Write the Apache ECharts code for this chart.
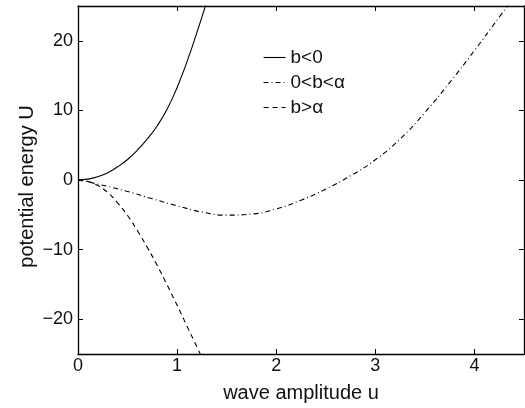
<!DOCTYPE html>
<html>
<head>
<meta charset="utf-8">
<script src="https://cdn.jsdelivr.net/npm/echarts@6/dist/echarts.min.js"></script>
<style>
html,body{margin:0;padding:0;background:#fff;}
#c{width:525px;height:408px;}
</style>
</head>
<body>
<div id="c"></div>
<script>
// Data
const seriesNames = ["b<0", "0<b<\u03B1", "b>\u03B1"];
const solidU = [0, 0.1, 0.2, 0.3, 0.4, 0.5, 0.6, 0.7, 0.8, 0.9, 1.0, 1.1, 1.2, 1.29];
const solidV = [0, 0.12, 0.47, 1.05, 1.9, 2.95, 4.3, 5.9, 7.8, 10.2, 13.3, 17.0, 21.2, 25.2];
const dashDotU = [0, 0.25, 0.5, 0.75, 1.0, 1.25, 1.5, 1.75, 2.0, 2.25, 2.5, 2.75, 3.0, 3.25, 3.5, 3.75, 4.0, 4.25, 4.34];
const dashDotV = [0, -0.75, -1.65, -2.7, -3.7, -4.6, -5.05, -4.9, -4.15, -2.9, -1.3, 0.6, 2.9, 5.9, 9.7, 14.0, 18.6, 23.4, 25.1];
const dashedU = [0, 0.1, 0.2, 0.3, 0.4, 0.5, 0.6, 0.7, 0.8, 0.9, 1.0, 1.1, 1.2, 1.24];
const dashedV = [0, -0.2, -0.8, -1.8, -3.3, -5.1, -7.3, -9.7, -12.3, -15.1, -18.0, -21.0, -24.0, -25.2];
const xTicks = [0, 1, 2, 3, 4];
const yTicks = [-20, -10, 0, 10, 20];

const pairs = (a, b) => a.map((v, i) => [v, b[i]]);
const font = "Liberation Sans, Arial, Helvetica, sans-serif";
const fmt = v => String(v).replace('-', '\u2212');

const axisCommon = {
  axisLine: { show: true, onZero: false, lineStyle: { color: '#000', width: 1.3 } },
  splitLine: { show: false },
};

const chart = echarts.init(document.getElementById('c'));
chart.setOption({
  animation: false,
  backgroundColor: '#fff',
  grid: { left: 78, right: 1, top: 6, bottom: 53 },
  xAxis: [
    Object.assign({}, axisCommon, {
      type: 'value', min: 0, max: 4.5, position: 'bottom',
      name: 'wave amplitude u', nameLocation: 'middle', nameGap: 29,
      nameTextStyle: { fontFamily: font, fontSize: 20, color: '#111' },
      axisTick: { show: true, inside: true, length: 5, customValues: xTicks, lineStyle: { color: '#000' } },
      axisLabel: { customValues: xTicks, formatter: fmt, fontFamily: font, fontSize: 18, color: '#111', margin: 3 }
    }),
    Object.assign({}, axisCommon, {
      type: 'value', min: 0, max: 4.5, position: 'top',
      axisTick: { show: true, inside: true, length: 5, customValues: xTicks, lineStyle: { color: '#000' } },
      axisLabel: { show: false }
    })
  ],
  yAxis: [
    Object.assign({}, axisCommon, {
      type: 'value', min: -25, max: 25, position: 'left',
      name: 'potential energy U', nameLocation: 'middle', nameGap: 41, nameMoveOverlap: false,
      nameTextStyle: { fontFamily: font, fontSize: 20, color: '#111', padding: [0, 13, 0, 0] },
      axisTick: { show: true, inside: true, length: 5, customValues: yTicks, lineStyle: { color: '#000' } },
      axisLabel: { customValues: yTicks, formatter: fmt, fontFamily: font, fontSize: 18, color: '#111', margin: 5 }
    }),
    Object.assign({}, axisCommon, {
      type: 'value', min: -25, max: 25, position: 'right',
      axisTick: { show: true, inside: true, length: 5, customValues: yTicks, lineStyle: { color: '#000' } },
      axisLabel: { show: false }
    })
  ],
  legend: {
    orient: 'vertical', left: 258, top: 43, itemWidth: 22, itemHeight: 16, itemGap: 6,
    itemStyle: { opacity: 0 },
    lineStyle: { width: 1.1 },
    textStyle: { fontFamily: font, fontSize: 19, color: '#111' },
    data: seriesNames
  },
  series: [
    { name: seriesNames[0], type: 'line', data: pairs(solidU, solidV), smooth: 0.5, symbol: 'none',
      lineStyle: { color: '#000', width: 1.1, type: 'solid' }, itemStyle: { color: '#000' } },
    { name: seriesNames[1], type: 'line', data: pairs(dashDotU, dashDotV), smooth: 0.5, symbol: 'none',
      lineStyle: { color: '#000', width: 1.1, type: [5, 3, 1, 3] }, itemStyle: { color: '#000' } },
    { name: seriesNames[2], type: 'line', data: pairs(dashedU, dashedV), smooth: 0.5, symbol: 'none',
      lineStyle: { color: '#000', width: 1.1, type: [5, 4] }, itemStyle: { color: '#000' } }
  ]
});
</script>
</body>
</html>
